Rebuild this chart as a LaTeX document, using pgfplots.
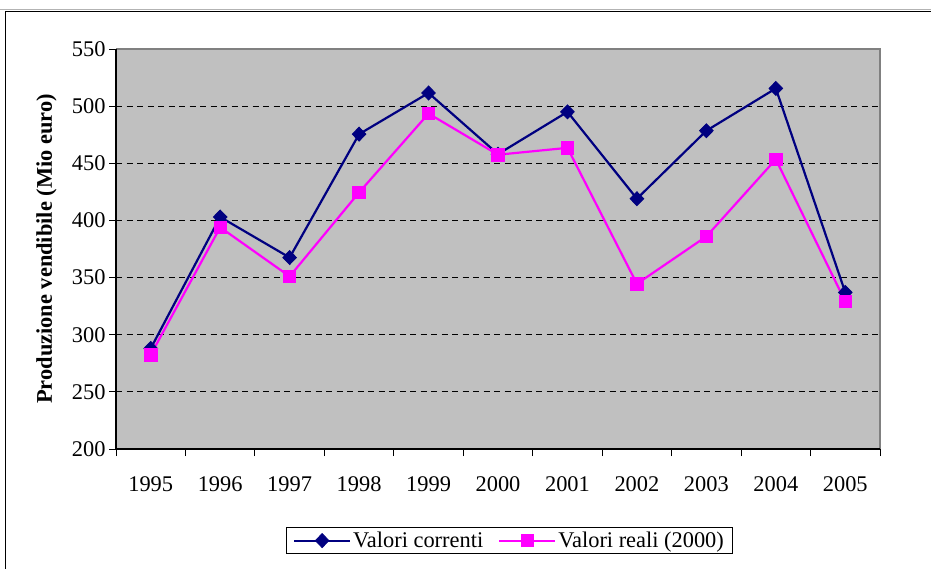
\documentclass[border=0pt]{standalone}
\usepackage{pgfplots}
\pgfplotsset{compat=1.18}
\usepackage{fontspec}
\setmainfont{Liberation Serif}
\definecolor{navyc}{HTML}{000080}
\definecolor{magc}{HTML}{FF00FF}
\definecolor{bgc}{HTML}{C0C0C0}
\definecolor{brd}{HTML}{808080}
\newcommand{\bigf}{\fontsize{22.4pt}{26pt}\selectfont}
\begin{document}
\begin{tikzpicture}[x=1pt,y=1pt]
\useasboundingbox (0,0) rectangle (931,568);
\draw[brd!60, line width=1pt] (0,558.5) -- (931,558.5);
\draw[black, line width=1.2pt] (5.5,-20) -- (5.5,556.5) -- (950,556.5);
\begin{axis}[
  at={(116pt,119pt)}, anchor=south west,
  scale only axis, width=764pt, height=400pt,
  xmin=0, xmax=11, ymin=200, ymax=550,
  ytick={200,250,300,350,400,450,500,550},
  xtick={0.5,1.5,2.5,3.5,4.5,5.5,6.5,7.5,8.5,9.5,10.5},
  xticklabels={1995,1996,1997,1998,1999,2000,2001,2002,2003,2004,2005},
  minor xtick={0,1,2,3,4,5,6,7,8,9,10,11},
  major x tick style={draw=none},
  tick align=outside,
  major tick length=7pt, minor tick length=7pt,
  tick style={black, line width=0.9pt},
  every tick/.style={black, line width=0.9pt},
  xtick pos=bottom, ytick pos=left,
  axis line style={draw=none},
  axis background/.style={fill=bgc},
  ymajorgrids,
  grid style={black, line width=0.8pt, dash pattern=on 6pt off 4.5pt},
  tick label style={font=\bigf},
  /pgf/number format/assume math mode=true,
  /pgf/number format/1000 sep={},
  xticklabel style={yshift=-17pt},
  ylabel={\bfseries Produzione vendibile (Mio euro)},
  ylabel style={font=\bigf, at={(axis description cs:-0.091,0.5)}, anchor=center},
  legend style={font=\bigf, at={(axis description cs:0.515,-0.229)}, anchor=center,
    draw=black, line width=0.8pt, legend columns=2, inner xsep=7pt, inner ysep=2.5pt,
    /tikz/every even column/.append style={column sep=13pt}},
  legend image code/.code={\draw[mark repeat=2,mark phase=2,#1] plot coordinates {(0pt,0pt)(28pt,0pt)(56pt,0pt)};},
  clip=false,
]
\addplot[navyc, line width=2.2pt, mark=diamond*, mark size=7pt,
  mark options={solid, fill=navyc, draw=navyc, line width=0.8pt, xscale=1.3}]
  coordinates {(0.5,288) (1.5,403) (2.5,367.5) (3.5,475.5) (4.5,511.5) (5.5,458) (6.5,495) (7.5,419) (8.5,478.5) (9.5,515.5) (10.5,337)};
\addlegendentry{Valori correnti}
\addplot[magc, line width=2.2pt, mark=square*, mark size=6.2pt,
  mark options={solid, fill=magc, draw=magc, line width=0.8pt}]
  coordinates {(0.5,282.5) (1.5,394) (2.5,351) (3.5,424.5) (4.5,493.5) (5.5,457.5) (6.5,463.5) (7.5,344.5) (8.5,386) (9.5,453.5) (10.5,329)};
\addlegendentry{Valori reali (2000)}
\draw[brd, line width=2pt] (rel axis cs:0,1) -- (rel axis cs:1,1) -- (rel axis cs:1,0);
\draw[black, line width=1.6pt] (rel axis cs:0,1) -- (rel axis cs:0,0) -- (rel axis cs:1,0);
\end{axis}
\end{tikzpicture}
\end{document}
